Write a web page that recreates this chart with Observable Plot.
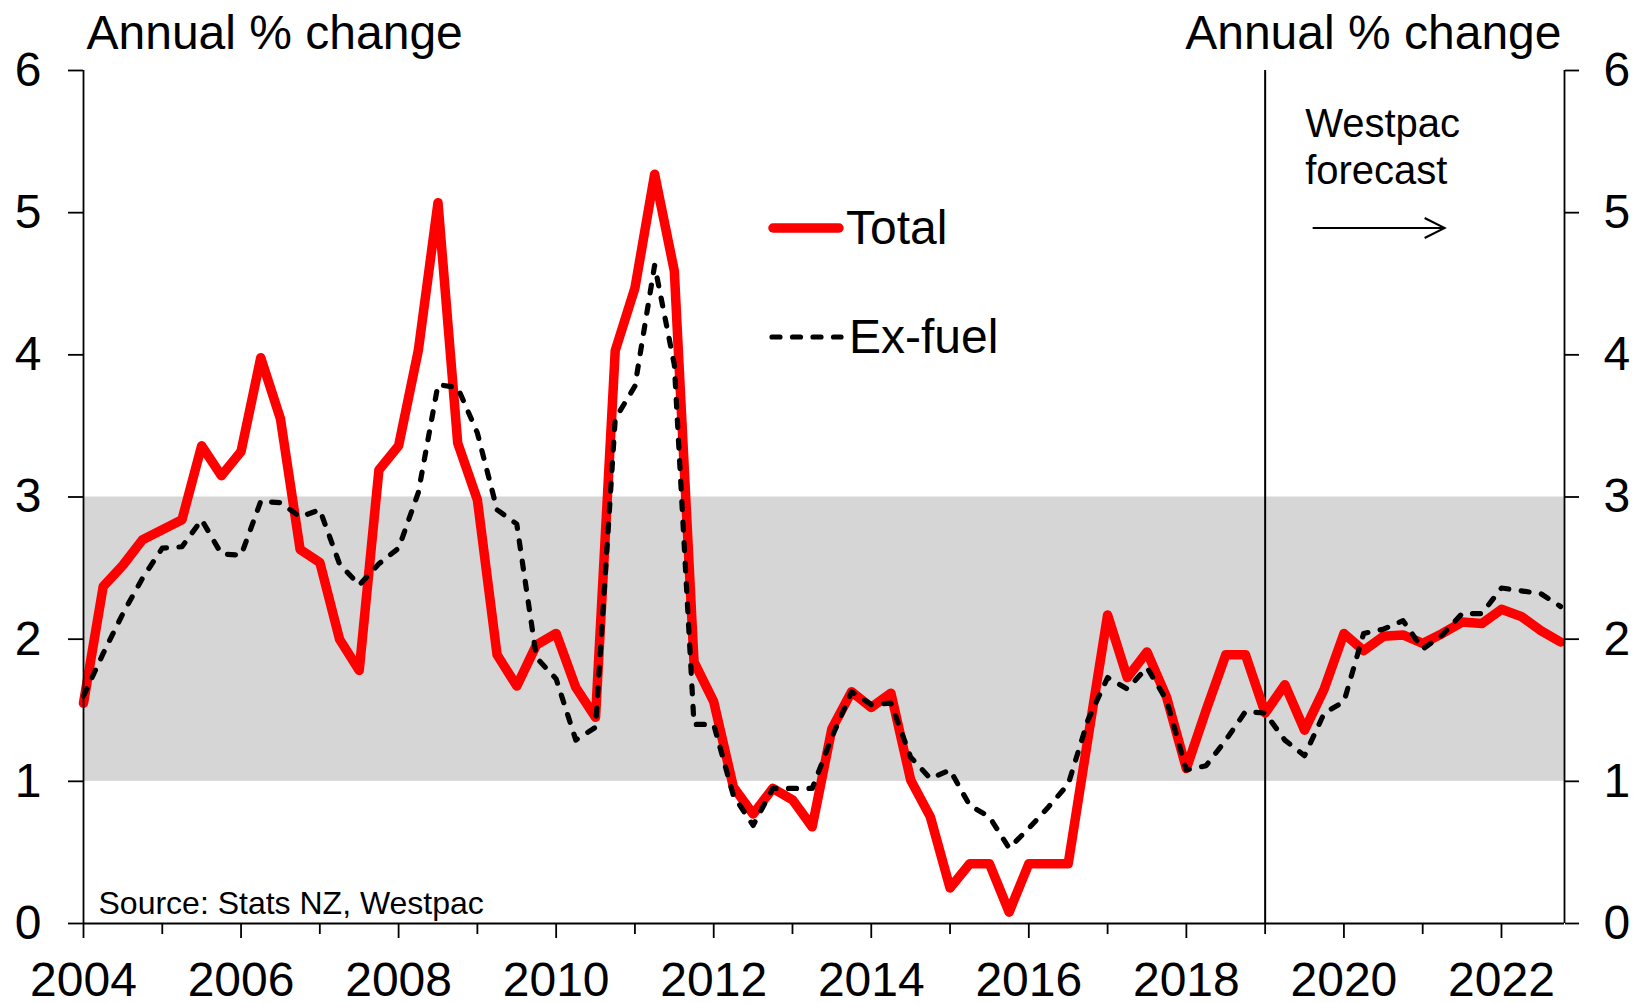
<!DOCTYPE html>
<html><head><meta charset="utf-8">
<script src="https://cdn.jsdelivr.net/npm/d3@7"></script>
<script src="https://cdn.jsdelivr.net/npm/@observablehq/plot@0.6"></script>
<style>
html,body{margin:0;padding:0;background:#fff;}
#chart{position:relative;width:1644px;height:1003px;}
#chart svg{font-family:"Liberation Sans",Arial,Helvetica,sans-serif;display:block;}
</style></head><body><div id="chart"></div>
<script>
// ---- data (quarterly, Mar 2004 to Dec 2022; annual % change) ----
const startYear = 2004;
const quartersPerYear = 4;
const total = [
  1.55, 2.37, 2.52, 2.70, 2.77, 2.84, 3.36, 3.15, 3.32, 3.98,
  3.55, 2.63, 2.54, 2.00, 1.78, 3.19, 3.36, 4.03, 5.07, 3.38,
  2.98, 1.89, 1.67, 1.96, 2.04, 1.66, 1.45, 4.03, 4.47, 5.27,
  4.59, 1.84, 1.56, 0.96, 0.77, 0.95, 0.87, 0.68, 1.37, 1.63,
  1.52, 1.62, 1.01, 0.75, 0.25, 0.42, 0.42, 0.08, 0.42, 0.42,
  0.42, 1.30, 2.17, 1.73, 1.91, 1.59, 1.09, 1.50, 1.89, 1.89,
  1.48, 1.68, 1.36, 1.65, 2.04, 1.92, 2.02, 2.03, 1.97, 2.04,
  2.12, 2.11, 2.21, 2.16, 2.06, 1.98
];
const exFuel = [
  1.60, 1.90, 2.18, 2.43, 2.64, 2.65, 2.84, 2.60, 2.59, 2.97,
  2.96, 2.86, 2.91, 2.53, 2.38, 2.53, 2.64, 3.03, 3.79, 3.77,
  3.45, 2.91, 2.81, 1.87, 1.72, 1.29, 1.38, 3.55, 3.78, 4.63,
  3.93, 1.40, 1.40, 0.90, 0.69, 0.95, 0.95, 0.95, 1.31, 1.63,
  1.54, 1.55, 1.17, 1.02, 1.08, 0.83, 0.75, 0.53, 0.67, 0.82,
  0.98, 1.43, 1.73, 1.65, 1.80, 1.57, 1.08, 1.11, 1.29, 1.49,
  1.48, 1.29, 1.18, 1.48, 1.56, 2.04, 2.07, 2.13, 1.93, 2.03,
  2.18, 2.18, 2.36, 2.34, 2.32, 2.23
];
const seriesNames = ["Total", "Ex-fuel"];
const yTicks = [0, 1, 2, 3, 4, 5, 6];
const yearTicks = d3.range(2004, 2023);
const labelYears = yearTicks.filter(y => y % 2 === 0);
const minorYears = yearTicks.filter(y => y % 2 === 1);
const targetBand = [1, 3];
const forecastStart = 2019;
const yAxisTitle = "Annual % change";
const sourceNote = "Source: Stats NZ, Westpac";
const forecastNote = "Westpac\nforecast";

// ---- layout / style ----
const xDomain = [2004, 2022.8];
const FONT = '"Liberation Sans", Arial, Helvetica, sans-serif';
const RED = "#ff0000";
const RED_W = 9.5, DASH_W = 5.2, DASH = "8,12.5";

const rows = total.map((v, i) => ({date: startYear + i / quartersPerYear, total: v, exFuel: exFuel[i]}));

const chart = Plot.plot({
  width: 1644,
  height: 1003,
  marginLeft: 83,
  marginRight: 80,
  marginTop: 70,
  marginBottom: 80,
  style: {fontFamily: FONT, background: "white", overflow: "visible", color: "black"},
  x: {type: "linear", domain: xDomain},
  y: {domain: [0, 6]},
  marks: [
    Plot.rect([targetBand], {x1: () => xDomain[0], x2: () => xDomain[1], y1: d => d[0], y2: d => d[1], fill: "#d6d6d6"}),
    Plot.ruleX([forecastStart], {stroke: "black", strokeWidth: 2}),
    Plot.line(rows, {x: "date", y: "total", stroke: RED, strokeWidth: RED_W, strokeLinejoin: "round", strokeLinecap: "round"}),
    Plot.line(rows, {x: "date", y: "exFuel", stroke: "black", strokeWidth: DASH_W, strokeDasharray: DASH, strokeLinecap: "round", strokeLinejoin: "round"}),
    Plot.ruleX(xDomain, {stroke: "black", strokeWidth: 1.8}),
    Plot.ruleY([0], {stroke: "black", strokeWidth: 1.8}),
    Plot.axisY({anchor: "left", ticks: yTicks, tickSize: 15, tickPadding: 27, fontSize: 48, label: null, strokeWidth: 1.8, tickFormat: d => String(d)}),
    Plot.axisY({anchor: "right", ticks: yTicks, tickSize: 14, tickPadding: 25, fontSize: 48, label: null, strokeWidth: 1.8, tickFormat: d => String(d)}),
    Plot.axisX({anchor: "bottom", ticks: labelYears, tickSize: 15, tickPadding: 23, fontSize: 48, label: null, strokeWidth: 1.8, tickFormat: d => String(d)}),
    Plot.axisX({anchor: "bottom", ticks: minorYears, tickSize: 11, label: null, strokeWidth: 1.8, tickFormat: () => ""}),
    Plot.text([yAxisTitle], {frameAnchor: "top-left", textAnchor: "start", lineAnchor: "bottom", dx: 3, dy: -22, fontSize: 48, fill: "black"}),
    Plot.text([yAxisTitle], {frameAnchor: "top-right", textAnchor: "end", lineAnchor: "bottom", dx: -3, dy: -22, fontSize: 48, fill: "black"}),
    Plot.text([sourceNote], {frameAnchor: "bottom-left", textAnchor: "start", lineAnchor: "bottom", dx: 15, dy: -10, fontSize: 32, fill: "black"}),
    Plot.text([forecastNote], {x: () => forecastStart, frameAnchor: "top", textAnchor: "start", lineAnchor: "bottom", lineHeight: 1.17, dx: 40, dy: 113, fontSize: 40, fill: "black"})
  ]
});
document.getElementById("chart").appendChild(chart);

// ---- legend and forecast arrow (positioned with the chart's own scales) ----
const svg = d3.select(chart);
const xs = chart.scale("x");
const fx = xs.apply(forecastStart);
const g = svg.append("g").attr("font-family", FONT).attr("fill", "black").attr("text-anchor", "start");
// arrow
const ay = 228;
g.append("line").attr("x1", fx + 48).attr("x2", fx + 180).attr("y1", ay).attr("y2", ay)
  .attr("stroke", "black").attr("stroke-width", 2);
g.append("path").attr("d", `M${fx + 160},${ay - 10}L${fx + 180},${ay}L${fx + 160},${ay + 10}`)
  .attr("fill", "none").attr("stroke", "black").attr("stroke-width", 2);
// legend
const legend = [
  {name: seriesNames[0], y: 228, stroke: RED, width: RED_W, dash: null, x1: 773, x2: 839, tx: 846, ty: 244},
  {name: seriesNames[1], y: 337, stroke: "black", width: DASH_W, dash: DASH, x1: 772, x2: 841, tx: 849, ty: 353}
];
for (const L of legend) {
  const ln = g.append("line").attr("x1", L.x1).attr("x2", L.x2).attr("y1", L.y).attr("y2", L.y)
    .attr("stroke", L.stroke).attr("stroke-width", L.width).attr("stroke-linecap", "round");
  if (L.dash) ln.attr("stroke-dasharray", L.dash);
  g.append("text").attr("x", L.tx).attr("y", L.ty).attr("font-size", 48).attr("text-anchor", "start").text(L.name);
}
</script>
</body></html>
